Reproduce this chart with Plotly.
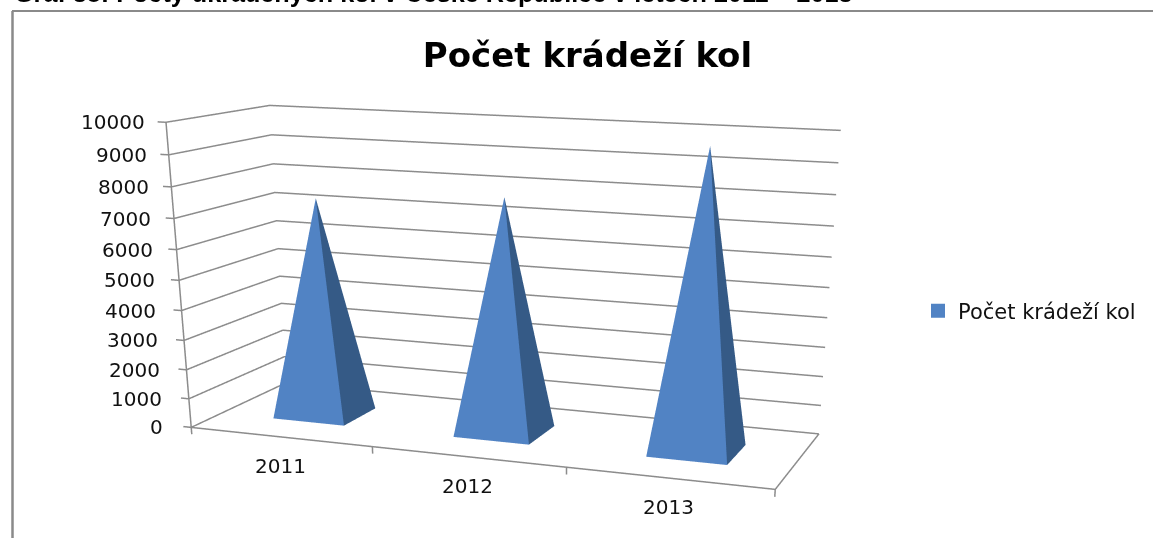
import plotly.graph_objects as go

# ---- data ----
YEARS = ["2011", "2012", "2013"]
THEFTS = [7400, 7800, 9700]
Z_TICKS = [0, 1000, 2000, 3000, 4000, 5000, 6000, 7000, 8000, 9000, 10000]
SERIES = "Počet krádeží kol"
TITLE = "Počet krádeží kol"
CAPTION = "Graf 38: Počty ukradených kol v České Republice v letech 2011 – 2013"

# ---- style / layout ----
W, H = 1153, 1400  # taller than the window: gives the long-lens perspective of the original
FRONT, SIDE = "#5183c4", "#355a86"
GRID = "#8c8c8c"
FONT = "DejaVu Sans"
UX, UY, UZ = 1 / 3, 0.341, 0.4873 / 10000
XR, YR, ZR = [-0.06, 3.03], [-0.01, 1.01], [-260.0, 10120.0]
EYE0 = (1.49, -2.4335, 0.7456)
CEN0 = (0.6892, -0.0035, -0.392)
UP = (-0.1438, 0.3803, 0.9136)
RIGHT = (0.9474, 0.3197, 0.016)
ROLL = 0.0045
NUDGE = -0.0025
BAR_LO, BAR_HI = 0.3, 0.7
DEPTH_LO, DEPTH_HI = 0.3, 0.67

box_mid = ((XR[0] + XR[1]) / 2 * UX, (YR[0] + YR[1]) / 2 * UY, (ZR[0] + ZR[1]) / 2 * UZ)
up = [u + ROLL * r for u, r in zip(UP, RIGHT)]
eye = [e - m for e, m in zip(EYE0, box_mid)]
cen = [c - m + NUDGE * u for c, m, u in zip(CEN0, box_mid, UP)]

fig = go.Figure()

# gridlines: left wall + back wall
gx, gy, gz = [], [], []
for v in Z_TICKS:
    gx += [-0.045, 0, 0, len(YEARS), None]
    gy += [0, 0, 1, 1, None]
    gz += [v, v, v, v, None]
# vertical axis, floor outline, category ticks
gx += [0, 0, None, 0, len(YEARS), len(YEARS), None]
gy += [0, 0, None, 0, 0, 1, None]
gz += [0, Z_TICKS[-1], None, 0, 0, 0, None]
for i in range(len(YEARS) + 1):
    gx += [i, i, None]
    gy += [0, 0, None]
    gz += [0, -240, None]
fig.add_trace(go.Scatter3d(x=gx, y=gy, z=gz, mode="lines", showlegend=False, hoverinfo="skip",
                           line=dict(color=GRID, width=3)))

# pyramids
for n, (year, val) in enumerate(zip(YEARS, THEFTS)):
    a, b = n + BAR_LO, n + BAR_HI
    xs = [a, b, b, a, n + 0.5]
    ys = [DEPTH_LO, DEPTH_LO, DEPTH_HI, DEPTH_HI, 0.5]
    zs = [0, 0, 0, 0, val]
    fig.add_trace(go.Mesh3d(
        x=xs, y=ys, z=zs,
        i=[0, 1, 2, 3, 0, 0], j=[1, 2, 3, 0, 1, 2], k=[4, 4, 4, 4, 2, 3],
        facecolor=[FRONT, SIDE, SIDE, FRONT, SIDE, SIDE],
        flatshading=True, showlegend=False, name=year,
        lighting=dict(ambient=1, diffuse=0, specular=0, fresnel=0, roughness=1),
    ))

# legend entry
fig.add_trace(go.Scatter3d(x=[None], y=[None], z=[None], mode="markers", name=SERIES, showlegend=True,
                           marker=dict(symbol="square", size=14, color=FRONT)))

annots = []
for v in Z_TICKS:
    annots.append(dict(x=0, y=0, z=v, text=str(v), showarrow=False, xanchor="right", yanchor="middle",
                       xshift=-26 + 7 * v / Z_TICKS[-1], font=dict(family=FONT, size=20, color="#111111")))
for n, year in enumerate(YEARS):
    annots.append(dict(x=n + 0.5, y=0, z=0, text=year, showarrow=False, xanchor="center", yanchor="middle",
                       yshift=-29, font=dict(family=FONT, size=20, color="#111111")))

axis = dict(visible=False, showspikes=False)
fig.update_layout(
    width=W, height=H, autosize=False,
    margin=dict(l=0, r=0, t=0, b=0),
    paper_bgcolor="white",
    title=dict(text=TITLE, x=587.5 / W, xanchor="center", y=1 - 55 / H, yanchor="middle",
               font=dict(family="DejaVu Sans", size=34, color="black", weight="bold")),
    legend=dict(x=918 / W, xanchor="left", y=1 - 311 / H, yanchor="middle",
                font=dict(family=FONT, size=21, color="#111111"), bgcolor="rgba(0,0,0,0)"),
    scene=dict(
        domain=dict(x=[0, 1], y=[0, 1]),
        dragmode="orbit",
        bgcolor="white",
        xaxis=dict(range=XR, **axis),
        yaxis=dict(range=YR, **axis),
        zaxis=dict(range=ZR, **axis),
        aspectmode="manual",
        aspectratio=dict(x=(XR[1] - XR[0]) * UX, y=(YR[1] - YR[0]) * UY, z=(ZR[1] - ZR[0]) * UZ),
        camera=dict(eye=dict(x=eye[0], y=eye[1], z=eye[2]),
                    center=dict(x=cen[0], y=cen[1], z=cen[2]),
                    up=dict(x=up[0], y=up[1], z=up[2]),
                    projection=dict(type="perspective")),
        annotations=annots,
    ),
    shapes=[
        dict(type="line", xref="paper", yref="paper", x0=12.5 / W, x1=12.5 / W, y0=0, y1=1 - 11 / H,
             line=dict(color="#8a8a8a", width=2.5)),
        dict(type="line", xref="paper", yref="paper", x0=12 / W, x1=1, y0=1 - 11 / H, y1=1 - 11 / H,
             line=dict(color="#8a8a8a", width=2)),
    ],
    annotations=[dict(text=CAPTION, xref="paper", yref="paper", x=12 / W, xanchor="left",
                      y=1 - 9.5 / H, yanchor="bottom", showarrow=False,
                      font=dict(family="Liberation Sans", size=25.2, color="black", weight="bold"))],
)

fig.write_html("out.html", config=dict(displayModeBar=False),
               post_script="document.documentElement.style.overflow='hidden';"
                           "document.body.style.overflow='hidden';document.body.style.margin='0';")
